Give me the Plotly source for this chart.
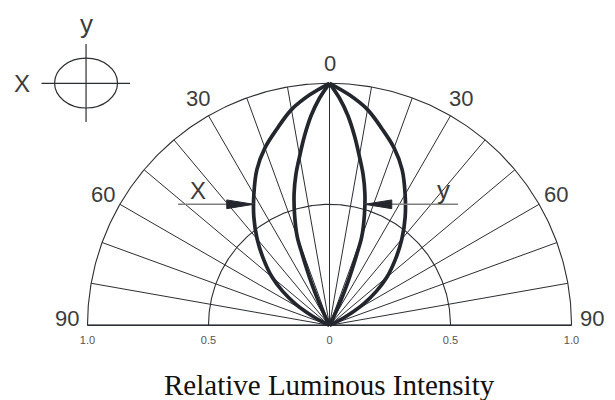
import numpy as np
import plotly.graph_objects as go

# ---------------- data ----------------
# X-direction pattern (wide lobe): angle in degrees, relative intensity
angle_x = [0, 5, 10, 15, 20, 25, 30, 35, 40, 45, 50, 54, 58, 60, 62, 64, 66]
lum_x = [1.0, 0.955, 0.905, 0.84, 0.78, 0.71, 0.625, 0.545, 0.465, 0.385, 0.31,
         0.24, 0.165, 0.12, 0.075, 0.035, 0.0]
# Y-direction pattern (narrow lobe)
angle_y = [0, 2.5, 5, 7.5, 10, 12.5, 15, 17.5, 20, 21, 22, 23, 24, 25, 26, 27]
lum_y = [1.0, 0.94, 0.87, 0.79, 0.71, 0.64, 0.565, 0.48, 0.39, 0.315, 0.25,
         0.195, 0.14, 0.09, 0.045, 0.0]

# axes / ticks
grid_angles = list(range(-90, 91, 10))
label_angles = [-90, -60, -30, 0, 30, 60, 90]
label_texts = ["90", "60", "30", "0", "30", "60", "90"]
radial_ticks = [-1.0, -0.5, 0.0, 0.5, 1.0]
radial_ticktext = ["1.0", "0.5", "0", "0.5", "1.0"]
grid_radii = [0.5, 1.0]
arrow_level = 0.5

# ---------------- styles ----------------
GRID = "#2b2e33"
LOBE = "#23272d"
TEXT = "#3c3c3c"
SANS = "Liberation Sans, Arial, sans-serif"
SERIF = "Liberation Serif, Times New Roman, serif"

fig = go.Figure()


def pol(r, a):
    a = np.radians(np.asarray(a, dtype=float))
    r = np.asarray(r, dtype=float)
    return r * np.sin(a), r * np.cos(a)


# radial grid lines
gx, gy = [], []
for a in grid_angles:
    x, y = pol([0, 1], [a, a])
    gx += list(x) + [None]
    gy += list(y) + [None]
fig.add_trace(go.Scatter(x=gx, y=gy, mode="lines", line=dict(color=GRID, width=1),
                         hoverinfo="skip", showlegend=False))

# arcs
for rr in grid_radii:
    t = np.linspace(-90, 90, 361)
    x, y = pol(np.full_like(t, rr), t)
    fig.add_trace(go.Scatter(x=x, y=y, mode="lines", line=dict(color=GRID, width=1.1),
                             hoverinfo="skip", showlegend=False))

# baseline
bx, by = pol([1, 1], [-90, 90])
fig.add_trace(go.Scatter(x=bx, y=[0, 0], mode="lines", line=dict(color=GRID, width=1.6),
                         hoverinfo="skip", showlegend=False))

# lobes (each half separately to keep the pointed tip)
for ang, lum in [(angle_x, lum_x), (angle_y, lum_y)]:
    for sgn in (-1, 1):
        x, y = pol(lum, sgn * np.asarray(ang, dtype=float))
        fig.add_trace(go.Scatter(x=x, y=y, mode="lines",
                                 line=dict(color=LOBE, width=3.7, shape="spline", smoothing=1),
                                 hoverinfo="skip", showlegend=False))

# arrows pointing at the lobes at a given level
xl, yl = pol(lum_x, -np.asarray(angle_x, dtype=float))
tip_left = float(np.interp(arrow_level, yl[::-1], xl[::-1]))
xr, yr = pol(lum_y, np.asarray(angle_y, dtype=float))
tip_right = float(np.interp(arrow_level, yr[::-1], xr[::-1]))

arrow_len = 0.112
arrow_half = 0.018
fig.add_trace(go.Scatter(x=[-0.626, tip_left], y=[arrow_level, arrow_level], mode="lines",
                         line=dict(color="#808080", width=1.4), hoverinfo="skip", showlegend=False))
fig.add_trace(go.Scatter(x=[tip_right, 0.531], y=[arrow_level, arrow_level], mode="lines",
                         line=dict(color="#808080", width=1.4), hoverinfo="skip", showlegend=False))
fig.add_trace(go.Scatter(
    x=[tip_left, tip_left - arrow_len, tip_left - arrow_len, tip_left],
    y=[arrow_level, arrow_level + arrow_half, arrow_level - arrow_half, arrow_level],
    mode="lines", fill="toself", fillcolor=LOBE, line=dict(color=LOBE, width=1),
    hoverinfo="skip", showlegend=False))
fig.add_trace(go.Scatter(
    x=[tip_right, tip_right + arrow_len, tip_right + arrow_len, tip_right],
    y=[arrow_level, arrow_level + arrow_half, arrow_level - arrow_half, arrow_level],
    mode="lines", fill="toself", fillcolor=LOBE, line=dict(color=LOBE, width=1),
    hoverinfo="skip", showlegend=False))

annotations = []
# angle labels
for a, txt in zip(label_angles, label_texts):
    x, y = pol(1.083, a)
    annotations.append(dict(x=float(x), y=float(y), text=txt, showarrow=False,
                            xref="x", yref="y", yshift=7 if abs(a) == 90 else 0,
                            font=dict(family=SANS, size=22, color=TEXT)))
# arrow labels
annotations.append(dict(x=-0.545, y=0.555, text="X", showarrow=False,
                        font=dict(family=SANS, size=24, color=TEXT)))
annotations.append(dict(x=0.47, y=0.56, text="y", showarrow=False,
                        font=dict(family=SANS, size=26, color=TEXT)))
# inset orientation sketch labels
annotations.append(dict(x=-1.005, y=1.244, text="y", showarrow=False,
                        font=dict(family=SANS, size=26, color=TEXT)))
annotations.append(dict(x=-1.27, y=1.0, text="X", showarrow=False,
                        font=dict(family=SANS, size=24, color=TEXT)))
# axis title (centred under the pattern origin)
annotations.append(dict(x=0.0, xref="x", y=-0.178, yref="paper",
                        yanchor="middle", text="Relative Luminous Intensity", showarrow=False,
                        font=dict(family=SERIF, size=29, color="#111111")))

shapes = [
    dict(type="circle", xref="x", yref="y", x0=-1.136, x1=-0.876, y0=0.898, y1=1.104,
         line=dict(color=GRID, width=1.2)),
    dict(type="line", xref="x", yref="y", x0=-1.19, x1=-0.824, y0=1.0, y1=1.0,
         line=dict(color=GRID, width=1.2)),
    dict(type="line", xref="x", yref="y", x0=-1.006, x1=-1.006, y0=0.84, y1=1.162,
         line=dict(color=GRID, width=1.2)),
]

# the page body adds an 8px offset; the plot area is laid out to compensate
fig.update_layout(
    width=615, height=400,
    margin=dict(l=0, r=0, t=0, b=80),
    paper_bgcolor="white", plot_bgcolor="white",
    annotations=annotations, shapes=shapes,
    xaxis=dict(range=[-1.3285, 1.2128], showgrid=False, zeroline=False, showline=False,
               tickvals=radial_ticks, ticktext=radial_ticktext, ticks="",
               ticklabelstandoff=4,
               tickfont=dict(family=SANS, size=11, color="#555555"), fixedrange=True),
    yaxis=dict(range=[-0.0112, 1.3112], showgrid=False, zeroline=False, showline=False,
               showticklabels=False, fixedrange=True),
)

fig.write_html("out.html")
